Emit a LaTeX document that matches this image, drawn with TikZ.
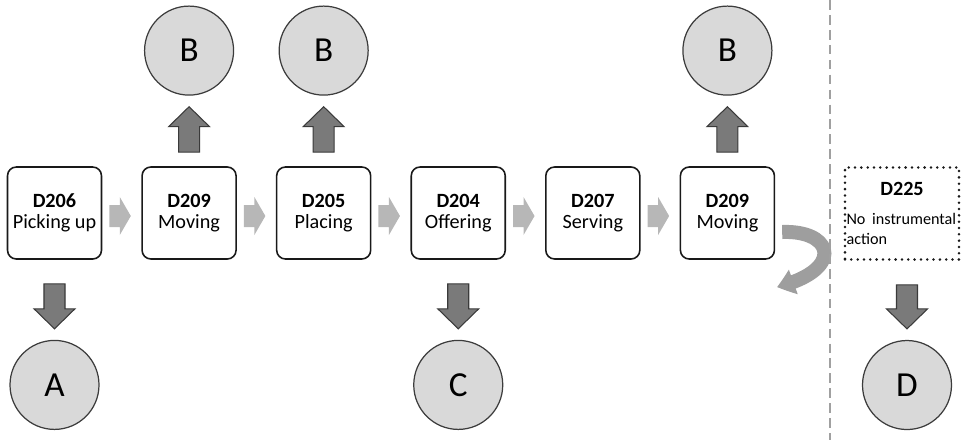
\documentclass[tikz,border=0pt]{standalone}
\usepackage{fontspec}
\setmainfont{Carlito}
\usepackage{xcolor}
\usetikzlibrary{positioning,calc,arrows.meta,bending}
\definecolor{BoxEdge}{RGB}{25,25,25}
\definecolor{CircleFill}{RGB}{217,217,217}
\definecolor{CircleEdge}{RGB}{60,60,60}
\definecolor{FatFill}{RGB}{122,122,122}
\definecolor{FatEdge}{RGB}{58,58,58}
\definecolor{FlowGray}{RGB}{183,183,183}
\definecolor{TurnGray}{RGB}{158,158,158}
\definecolor{LineGray}{RGB}{160,160,160}

% block arrow between two points: gap at start, gap at end, half shaft, half head, head length
\tikzset{
  blockarrow/.style n args={5}{to path={
    ($(\tikztostart)!#1!(\tikztotarget)$) coordinate (ba-s)
    ($(\tikztotarget)!#2!(\tikztostart)$) coordinate (ba-t)
    ($(ba-t)!#5!(ba-s)$) coordinate (ba-h)
    ($(ba-s)!#3!90:(ba-t)$) -- ($(ba-h)!#3!90:(ba-t)$) -- ($(ba-h)!#4!90:(ba-t)$) -- (ba-t)
    -- ($(ba-h)!#4!-90:(ba-t)$) -- ($(ba-h)!#3!-90:(ba-t)$) -- ($(ba-s)!#3!-90:(ba-t)$) -- cycle}}
}

\begin{document}
\begin{tikzpicture}[
  font=\fontsize{11.5}{12}\selectfont,
  node distance=0.78cm,
  act/.style={draw=BoxEdge, line width=0.9pt, fill=white, rounded corners=5pt, minimum width=1.88cm, minimum height=1.84cm, align=center, inner sep=1pt},
  idle/.style={draw=BoxEdge, line width=1.6pt, dash pattern=on 0pt off 3.6pt, line cap=round, minimum width=2.28cm, minimum height=1.84cm, inner sep=0.03cm},
  outcome/.style={circle, draw=CircleEdge, line width=0.7pt, fill=CircleFill, minimum size=1.78cm, inner sep=0pt, font=\fontsize{20}{24}\selectfont},
  fat/.style={fill=FatFill, draw=FatEdge, line width=0.6pt, line join=miter},
  fatup/.style={fat, blockarrow={0.28cm}{0.22cm}{0.21cm}{0.41cm}{0.4cm}},
  fatdown/.style={fat, blockarrow={0.48cm}{0.22cm}{0.21cm}{0.41cm}{0.4cm}},
  flow/.style={draw=none, fill=FlowGray, blockarrow={0.14cm}{0.21cm}{0.22cm}{0.38cm}{0.22cm}},
  turn/.style={draw=TurnGray, line width=0.28cm, -{Triangle[width=0.5cm,length=0.34cm,bend]}},
  divider/.style={draw=LineGray, line width=1.4pt, dash pattern=on 5.5pt off 3pt}
]
\useasboundingbox (0,0) rectangle (19.22,-8.8);

% action sequence
\node[act] (m1) at (1.09,-4.26) {\textbf{D206}\\Picking up};
\node[act, right=of m1] (m2) {\textbf{D209}\\Moving};
\node[act, right=of m2] (m3) {\textbf{D205}\\Placing};
\node[act, right=of m3] (m4) {\textbf{D204}\\Offering};
\node[act, right=of m4] (m5) {\textbf{D207}\\Serving};
\node[act, right=of m5] (m6) {\textbf{D209}\\Moving};
\node[idle, text width=2.22cm, align=left] (d225) at (18.04,-4.27)
  {\makebox[2.22cm]{\textbf{D225}}\\[5pt]{\fontsize{9.2}{11.3}\selectfont\mbox{No instrumental}\\action\par}};

% outcomes
\node[outcome, above=1.41cm of m2] (b2) {B};
\node[outcome, above=1.41cm of m3] (b3) {B};
\node[outcome, above=1.41cm of m6] (b6) {B};
\node[outcome, below=1.6cm of m1] (a1) {A};
\node[outcome, below=1.6cm of m4] (c4) {C};
\node[outcome, below=1.58cm of d225, xshift=0.1cm] (d1) {D};

\coordinate (back) at (15.54,-5.74);

\draw[flow] ([yshift=-0.06cm]m1.east) to ([yshift=-0.06cm]m2.west);
\draw[flow] ([yshift=-0.06cm]m2.east) to ([yshift=-0.06cm]m3.west);
\draw[flow] ([yshift=-0.06cm]m3.east) to ([yshift=-0.06cm]m4.west);
\draw[flow] ([yshift=-0.06cm]m4.east) to ([yshift=-0.06cm]m5.west);
\draw[flow] ([yshift=-0.06cm]m5.east) to ([yshift=-0.06cm]m6.west);

\draw[fatup] (m2.north) to (b2.south);
\draw[fatup] (m3.north) to (b3.south);
\draw[fatup] (m6.north) to (b6.south);
\draw[fatdown] (m1.south) to (a1.north);
\draw[fatdown] (m4.south) to (c4.north);
\draw[fatdown] ([xshift=0.1cm]d225.south) to (d1.north);

\draw[turn] ([xshift=0.14cm,yshift=-0.38cm]m6.east) .. controls +(1.03,0.04) and +(1.36,0.34) .. (back);

\draw[divider] (16.6,0) -- (16.6,-8.8);
\end{tikzpicture}
\end{document}
